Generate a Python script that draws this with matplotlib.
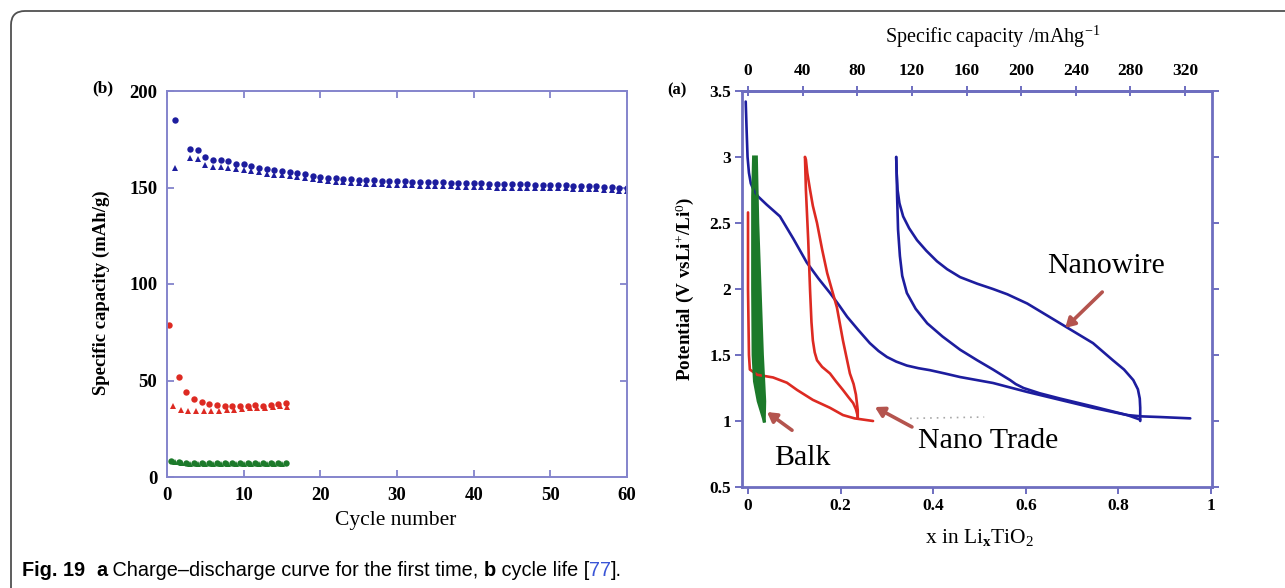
import matplotlib
matplotlib.use("Agg")
import matplotlib.pyplot as plt
from matplotlib.patches import FancyBboxPatch

plt.rcParams['font.family'] = ['Liberation Serif', 'DejaVu Serif']
plt.rcParams['mathtext.fontset'] = 'custom'
plt.rcParams['mathtext.rm'] = 'Liberation Serif'
plt.rcParams['mathtext.it'] = 'Liberation Serif:italic'
plt.rcParams['mathtext.bf'] = 'Liberation Serif:bold'

# ---------------- (b) cycle life ----------------
blue_cycles = [1] + list(range(3, 61))
blue_circle = [185, 170, 169.5, 166, 164.5, 164, 163.5, 162, 162, 161, 160, 159.5, 159,
               158.5, 158, 157.5, 157, 156, 155.5, 155, 155, 154.5, 154.5, 154, 154, 154,
               153.5, 153.5, 153.5, 153.5, 153, 153, 153, 153, 153, 152.5, 152.5, 152.5,
               152.5, 152.5, 152, 152, 152, 152, 152, 152, 151.5, 151.5, 151.5, 151.5,
               151.5, 151, 151, 151, 151, 150.5, 150.5, 150, 150]
blue_triangle = [160, 165.5, 165, 161.5, 160.5, 160.5, 160, 159.5, 159, 158.5, 158, 157,
                 156.5, 156.5, 156, 155.5, 155, 154.5, 154, 153.5, 153, 153, 152.5, 152.5,
                 152, 152, 152, 151.5, 151.5, 151.5, 151.5, 151, 151, 151, 151, 151, 150.5,
                 150.5, 150.5, 150.5, 150.5, 150, 150, 150, 150, 150, 149.5, 149.5, 149.5,
                 149.5, 149.5, 149, 149, 149, 149, 148.5, 148.5, 148, 148]

red_circle_cycles = [0.3, 1.5, 2.5, 3.5, 4.5, 5.5, 6.5, 7.5, 8.5, 9.5, 10.5, 11.5, 12.5,
                     13.5, 14.5, 15.5]
red_circle = [79, 52, 44, 40.5, 39, 38, 37.5, 37, 37, 37, 37, 37.5, 37, 37.5, 38, 38.5]
red_triangle_cycles = [0.8, 1.8, 2.8, 3.8, 4.8, 5.8, 6.8, 7.8, 8.8, 9.8, 10.8, 11.8, 12.8,
                       13.8, 14.8, 15.6]
red_triangle = [37, 34.5, 34, 34, 34, 34, 34, 34.5, 34.5, 35, 35.5, 35.5, 36, 36.5, 37, 36.5]

green_circle_cycles = [0.5, 1.5, 2.5, 3.5, 4.5, 5.5, 6.5, 7.5, 8.5, 9.5, 10.5, 11.5, 12.5,
                       13.5, 14.5, 15.5]
green_circle = [8.5, 8, 7.5, 7.5, 7.5, 7.5, 7.5, 7.5, 7.5, 7.5, 7.5, 7.5, 7.5, 7.5, 7.5, 7.5]
green_triangle_cycles = [1, 2, 3, 4, 5, 6, 7, 8, 9, 10, 11, 12, 13, 14, 15]
green_triangle = [8, 7, 6.5, 6.5, 6.5, 6.5, 6.5, 6.5, 6.5, 6.5, 6.5, 6.5, 6.5, 6.5, 6.5]

cycle_ticks = [0, 10, 20, 30, 40, 50, 60]
capacity_ticks = [0, 50, 100, 150, 200]

# ---------------- (a) first charge-discharge curves ----------------
nw_first_x = [-0.005, -0.003, -0.001, 0.002, 0.006, 0.012, 0.022, 0.040, 0.069, 0.098,
              0.127, 0.152, 0.177, 0.196, 0.214, 0.238, 0.263, 0.282, 0.300, 0.320, 0.343,
              0.368, 0.393, 0.425, 0.458, 0.529, 0.603, 0.674, 0.745, 0.819, 0.850, 0.890,
              0.955]
nw_first_v = [3.42, 3.2, 3.0, 2.88, 2.80, 2.75, 2.70, 2.64, 2.55, 2.38, 2.20, 2.08, 1.97,
              1.88, 1.79, 1.69, 1.59, 1.53, 1.485, 1.45, 1.42, 1.40, 1.385, 1.36, 1.333,
              1.288, 1.22, 1.16, 1.10, 1.045, 1.035, 1.03, 1.02]
nw_charge_x = [0.847, 0.847, 0.846, 0.842, 0.832, 0.812, 0.788, 0.745, 0.674, 0.603, 0.560,
               0.529, 0.495, 0.458, 0.430, 0.408, 0.385, 0.365, 0.348, 0.335, 0.327, 0.323,
               0.321, 0.320]
nw_charge_v = [1.0, 1.10, 1.17, 1.24, 1.31, 1.39, 1.46, 1.59, 1.74, 1.89, 1.96, 2.0, 2.04,
               2.09, 2.15, 2.21, 2.29, 2.37, 2.46, 2.55, 2.65, 2.75, 2.88, 3.0]
nw_dis_x = [0.320, 0.321, 0.322, 0.324, 0.328, 0.333, 0.343, 0.362, 0.387, 0.420, 0.458,
            0.495, 0.529, 0.552, 0.566, 0.578, 0.595, 0.630, 0.674, 0.745, 0.819, 0.847]
nw_dis_v = [3.0, 2.88, 2.70, 2.45, 2.25, 2.10, 1.97, 1.85, 1.74, 1.64, 1.54, 1.46, 1.39,
            1.34, 1.31, 1.28, 1.25, 1.21, 1.17, 1.11, 1.045, 1.01]

nt_first_x = [0.0, 0.0, 0.002, 0.004, 0.02, 0.054, 0.084, 0.106, 0.14, 0.177, 0.205, 0.23,
              0.27]
nt_first_v = [2.58, 2.0, 1.5, 1.39, 1.35, 1.33, 1.29, 1.235, 1.16, 1.10, 1.045, 1.02, 1.0]
nt_charge_x = [0.237, 0.237, 0.233, 0.228, 0.220, 0.205, 0.192, 0.171, 0.160, 0.149, 0.140,
               0.134, 0.128, 0.125, 0.123]
nt_charge_v = [1.02, 1.08, 1.20, 1.28, 1.36, 1.61, 1.86, 2.12, 2.30, 2.50, 2.63, 2.75, 2.88,
               2.98, 3.0]
nt_dis_x = [0.123, 0.125, 0.130, 0.134, 0.137, 0.140, 0.144, 0.149, 0.160, 0.177, 0.190,
            0.205, 0.217, 0.227, 0.233, 0.236, 0.237]
nt_dis_v = [3.0, 2.75, 2.37, 1.99, 1.75, 1.61, 1.52, 1.46, 1.41, 1.36, 1.30, 1.235, 1.18,
            1.136, 1.09, 1.05, 1.02]

bulk_dis_x = [0.012, 0.010, 0.010, 0.011, 0.014, 0.022, 0.035]
bulk_dis_v = [3.0, 2.7, 2.0, 1.5, 1.3, 1.15, 1.0]
bulk_chg_x = [0.035, 0.036, 0.031, 0.026, 0.021, 0.018]
bulk_chg_v = [1.0, 1.15, 1.5, 2.0, 2.5, 3.0]

x_ticks = [0, 0.2, 0.4, 0.6, 0.8, 1.0]
x_tick_labels = ['0', '0.2', '0.4', '0.6', '0.8', '1']
v_ticks = [0.5, 1, 1.5, 2, 2.5, 3, 3.5]
v_tick_labels = ['0.5', '1', '1.5', '2', '2.5', '3', '3.5']
cap_ticks = [0, 40, 80, 120, 160, 200, 240, 280, 320]
cap_per_x = 339.0

BLUE = '#1d1d9e'
RED = '#dd2a22'
GREEN = '#1c7a2a'
SPINE_B = '#8484cc'
SPINE_A = '#6e6ec0'
ARROW = '#b4544e'

W, H = 1285, 588
fig = plt.figure(figsize=(W / 100, H / 100), dpi=100)
fig.patch.set_facecolor('white')


def px_axes(l, t, r, b):
    return fig.add_axes([l / W, 1 - b / H, (r - l) / W, (b - t) / H])


# ---- left panel
axb = px_axes(167, 91, 627, 477)
mk = dict(linestyle='none', markersize=4.6, markeredgewidth=0)
axb.plot(blue_cycles, blue_circle, marker='o', color=BLUE, **mk)
axb.plot(blue_cycles, blue_triangle, marker='^', color=BLUE, **mk)
axb.plot(red_circle_cycles, red_circle, marker='o', color=RED, **mk)
axb.plot(red_triangle_cycles, red_triangle, marker='^', color=RED, **mk)
axb.plot(green_circle_cycles, green_circle, marker='o', color=GREEN, **mk)
axb.plot(green_triangle_cycles, green_triangle, marker='^', color=GREEN, **mk)
axb.set_xlim(0, 60)
axb.set_ylim(0, 200)
axb.set_xticks(cycle_ticks)
axb.set_yticks(capacity_ticks)
for s in axb.spines.values():
    s.set_color(SPINE_B)
    s.set_linewidth(1.4)
axb.tick_params(direction='in', length=5, width=1.3, color=SPINE_B, top=True, right=True,
                labelsize=13.5, pad=7)
for lab in axb.get_xticklabels() + axb.get_yticklabels():
    lab.set_fontweight('bold')
fig.text(396 / W, 1 - 521 / H, 'Cycle number', fontsize=15.5, ha='center', va='center')
fig.text(101 / W, 1 - 293 / H, 'Specific capacity (mAh/g)', fontsize=13.5, fontweight='bold',
         rotation=90, ha='center', va='center')
fig.text(103 / W, 1 - 88 / H, '(b)', fontsize=12.5, fontweight='bold', ha='center', va='center')

# ---- right panel
axa = px_axes(742, 91, 1212, 487)
line_kw = dict(lw=1.9, solid_joinstyle='round', solid_capstyle='round')
axa.plot(nw_first_x, nw_first_v, color=BLUE, **line_kw)
axa.plot(nw_charge_x, nw_charge_v, color=BLUE, **line_kw)
axa.plot(nw_dis_x, nw_dis_v, color=BLUE, **line_kw)
axa.plot(nt_first_x, nt_first_v, color=RED, **line_kw)
axa.plot(nt_charge_x, nt_charge_v, color=RED, **line_kw)
axa.plot(nt_dis_x, nt_dis_v, color=RED, **line_kw)
axa.fill(bulk_dis_x + bulk_chg_x, bulk_dis_v + bulk_chg_v, color=GREEN, lw=0)
axa.plot(bulk_dis_x, bulk_dis_v, color=GREEN, lw=2.2)
axa.plot(bulk_chg_x, bulk_chg_v, color=GREEN, lw=2.2)
axa.plot([0.35, 0.51], [1.02, 1.03], color='#a8a8a8', lw=1.2, ls=(0, (1, 3)))
axa.set_xlim(-0.013, 1.002)
axa.set_ylim(0.5, 3.5)
axa.set_xticks(x_ticks)
axa.set_xticklabels(x_tick_labels)
axa.set_yticks(v_ticks)
axa.set_yticklabels(v_tick_labels)
for s in axa.spines.values():
    s.set_color(SPINE_A)
    s.set_linewidth(2.0)
axa.tick_params(direction='out', length=5, width=1.4, color=SPINE_A, right=True,
                labelsize=12.5, pad=3)
for lab in axa.get_xticklabels() + axa.get_yticklabels():
    lab.set_fontweight('bold')

secax = axa.secondary_xaxis('top', functions=(lambda x: x * cap_per_x,
                                              lambda c: c / cap_per_x))
secax.set_xticks(cap_ticks)
secax.spines['top'].set_color(SPINE_A)
secax.spines['top'].set_linewidth(2.0)
secax.tick_params(direction='inout', length=7, width=1.4, color=SPINE_A, labelsize=12.5, pad=5)
for lab in secax.get_xticklabels():
    lab.set_fontweight('bold')

fig.text(993 / W, 1 - 37 / H, 'Specific capacity /mAhg$^{-1}$', fontsize=14.5,
         ha='center', va='center')
fig.text(979 / W, 1 - 537 / H, 'x in Li$_{\\mathbf{x}}$TiO$_2$', fontsize=15.5,
         ha='center', va='center')
fig.text(685 / W, 1 - 289 / H, 'Potential (V vsLi$^{+}$/Li$^{0}$)', fontsize=13.8,
         fontweight='bold', rotation=90, ha='center', va='center')
fig.text(677 / W, 1 - 90 / H, '(a)', fontsize=12, fontweight='bold', ha='center', va='center')

axa.text(0.773, 2.174, 'Nanowire', fontsize=21.5, ha='center', va='center')
axa.text(0.367, 0.848, 'Nano Trade', fontsize=21.5, ha='left', va='center')
axa.text(0.056, 0.72, 'Balk', fontsize=21.5, ha='left', va='center')

arrow_kw = dict(arrowstyle='-|>,head_length=0.55,head_width=0.32', color=ARROW, lw=2.6,
                shrinkA=0, shrinkB=0)
for head, tail in [((0.041, 1.068), (0.095, 0.93)),
                   ((0.274, 1.106), (0.354, 0.955)),
                   ((0.685, 1.705), (0.765, 1.977))]:
    axa.annotate('', xy=head, xytext=tail, arrowprops=arrow_kw)

# ---- frame around the figure
frame = FancyBboxPatch((0.11, -0.5), 14.0, 5.77 + 0.5,
                       boxstyle='round,pad=0,rounding_size=0.14',
                       transform=fig.dpi_scale_trans, facecolor='none', edgecolor='#505050',
                       lw=1.3)
fig.add_artist(frame)

# ---- caption, fitted to its line width
renderer = fig.canvas.get_renderer()
cap_font = ['Liberation Sans', 'DejaVu Sans']
pieces = [('Fig. 19', 'bold', 'black'), ('  ', 'normal', 'black'), ('a', 'bold', 'black'),
          (' Charge\u2013discharge curve for the first time, ', 'normal', 'black'),
          ('b', 'bold', 'black'), (' cycle life [', 'normal', 'black'),
          ('77', 'normal', '#3a55d6'), ('].', 'normal', 'black')]


def draw_caption(size):
    x_cur = 22
    texts = []
    for txt, weight, col in pieces:
        t = fig.text(x_cur / W, 1 - 570 / H, txt, fontsize=size, fontweight=weight, color=col,
                     family=cap_font, ha='left', va='center')
        texts.append(t)
        x_cur += t.get_window_extent(renderer=renderer).width
    return texts, x_cur - 22


texts, width = draw_caption(11.0)
for t in texts:
    t.remove()
draw_caption(11.0 * 598 / width)

fig.savefig('out.png', dpi=100, facecolor='white')
